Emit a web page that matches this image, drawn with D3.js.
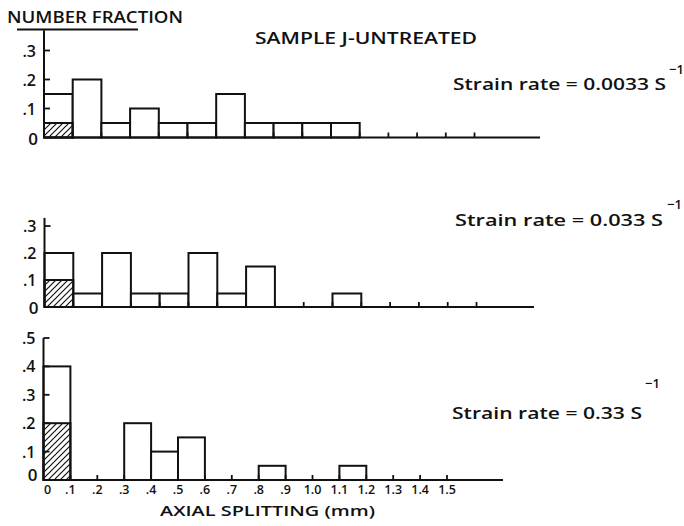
<!DOCTYPE html>
<html><head><meta charset="utf-8">
<script src="https://cdn.jsdelivr.net/npm/d3@7/dist/d3.min.js"></script>
<style>
body{margin:0;background:#fff}
svg{display:block}
text{font-family:'Open Sans','DejaVu Sans',sans-serif;font-weight:600;fill:#111}
</style></head>
<body><svg id="chart" width="684" height="526"></svg>
<script>
// ---- data ----
const binStarts = [0,0.1,0.2,0.3,0.4,0.5,0.6,0.7,0.8,0.9,1.0,1.1,1.2,1.3,1.4];
const tickValues = [0.1,0.2,0.3,0.4,0.5,0.6,0.7,0.8,0.9,1.0,1.1,1.2,1.3,1.4,1.5];
const xTickLabels = ["0",".1",".2",".3",".4",".5",".6",".7",".8",".9","1.0","1.1","1.2","1.3","1.4","1.5"];
const xTickLabelValues = [0,0.1,0.2,0.3,0.4,0.5,0.6,0.7,0.8,0.9,1.0,1.1,1.2,1.3,1.4,1.5];

const slowValues   = [0.15,0.20,0.05,0.10,0.05,0.05,0.15,0.05,0.05,0.05,0.05,0,0,0,0];
const slowHatched  = [0.05];
const midValues    = [0.20,0.05,0.20,0.05,0.05,0.20,0.05,0.15,0,0,0.05,0,0,0,0];
const midHatched   = [0.10];
const fastValues   = [0.40,0,0,0.20,0.10,0.15,0,0,0.05,0,0,0.05,0,0,0];
const fastHatched  = [0.20];

const yTicksSmall  = [0,0.1,0.2,0.3];
const yLabelsSmall = ["0",".1",".2",".3"];
const yTicksLarge  = [0,0.1,0.2,0.3,0.4,0.5];
const yLabelsLarge = ["0",".1",".2",".3",".4",".5"];

const rateLabels = ["Strain rate = 0.0033 S","Strain rate = 0.033 S","Strain rate = 0.33 S"];
const titleText = "SAMPLE J-UNTREATED";
const yTitle = "NUMBER FRACTION";
const xTitle = "AXIAL SPLITTING (mm)";

// ---- drawing ----
const svg = d3.select("#chart");
const defs = svg.append("defs");
const pat = defs.append("pattern").attr("id","hatch").attr("patternUnits","userSpaceOnUse")
  .attr("width",6).attr("height",6);
pat.append("path").attr("d","M-1,1 L1,-1 M0,6 L6,0 M5,7 L7,5")
  .attr("stroke","#111").attr("stroke-width",1.2);

const panels = [
  {values:slowValues, hatched:slowHatched, x0:44, xEnd:540, bw:28.7, y0:137.5, unit:290, yMax:0.37,
   ticks:yTicksSmall, labels:yLabelsSmall, rate:rateLabels[0], rx:453, ry:90, rw:213, sx:669, sy:74},
  {values:midValues, hatched:midHatched, x0:44.5, xEnd:534, bw:28.8, y0:307, unit:270, yMax:0.33,
   ticks:yTicksSmall, labels:yLabelsSmall, rate:rateLabels[1], rx:455, ry:226, rw:208, sx:667, sy:209},
  {values:fastValues, hatched:fastHatched, x0:43.5, xEnd:503, bw:26.9, y0:480, unit:284, yMax:0.5,
   ticks:yTicksLarge, labels:yLabelsLarge, rate:rateLabels[2], rx:452, ry:419, rw:190, sx:645, sy:388}
];

panels.forEach((p,i)=>{
  const dMax = (p.xEnd - p.x0)/(p.bw*10);
  const x = d3.scaleLinear().domain([0,dMax]).range([p.x0,p.xEnd]);
  const y = d3.scaleLinear().domain([0,p.yMax]).range([p.y0,p.y0-p.yMax*p.unit]);
  const g = svg.append("g");

  // bars
  const bars = binStarts.map((s,k)=>({s, v:p.values[k]})).filter(d=>d.v>0);
  g.selectAll("rect.bar").data(bars).join("rect").attr("class","bar")
    .attr("x",d=>x(d.s)).attr("width",d=>x(d.s+0.1)-x(d.s))
    .attr("y",d=>y(d.v)).attr("height",d=>y(0)-y(d.v))
    .attr("fill","#fff").attr("stroke","#111").attr("stroke-width",2);
  g.selectAll("rect.hat").data(p.hatched.map((v,k)=>({s:binStarts[k],v}))).join("rect").attr("class","hat")
    .attr("x",d=>x(d.s)).attr("width",d=>x(d.s+0.1)-x(d.s))
    .attr("y",d=>y(d.v)).attr("height",d=>y(0)-y(d.v))
    .attr("fill","url(#hatch)").attr("stroke","#111").attr("stroke-width",2);

  // x baseline + upward ticks
  g.append("line").attr("x1",x(0)).attr("x2",x(dMax)).attr("y1",y(0)).attr("y2",y(0))
    .attr("stroke","#111").attr("stroke-width",2);
  g.selectAll("line.xt").data(tickValues).join("line").attr("class","xt")
    .attr("x1",d=>x(d)).attr("x2",d=>x(d)).attr("y1",y(0)).attr("y2",y(0)-5)
    .attr("stroke","#111").attr("stroke-width",1.8);

  // y axis
  g.append("line").attr("x1",x(0)).attr("x2",x(0)).attr("y1",y(p.yMax)).attr("y2",y(0))
    .attr("stroke","#111").attr("stroke-width",2);
  g.selectAll("line.yt").data(p.ticks.slice(1)).join("line").attr("class","yt")
    .attr("x1",x(0)).attr("x2",x(0)+6).attr("y1",d=>y(d)).attr("y2",d=>y(d))
    .attr("stroke","#111").attr("stroke-width",1.8);
  g.selectAll("text.yl").data(p.ticks).join("text").attr("class","yl")
    .attr("x",(d,k)=>k===0?x(0)-6:x(0)-8).attr("y",(d,k)=>y(d)+(k===0 ? (i===2?1:7) : 6))
    .attr("text-anchor","end").attr("font-size",(d,k)=>k===0?17:16)
    .text((d,k)=>p.labels[k]);

  // strain-rate label with superscript
  g.append("text").attr("x",p.rx).attr("y",p.ry).attr("font-size",17)
    .attr("textLength",p.rw).attr("lengthAdjust","spacingAndGlyphs").text(p.rate);
  g.append("text").attr("x",p.sx).attr("y",p.sy).attr("font-size",13).text("\u22121");

  if(i===2){
    g.selectAll("text.xl").data(xTickLabelValues).join("text").attr("class","xl")
      .attr("x",(d,k)=>x(d)+(k===0?4:0)).attr("y",494)
      .attr("text-anchor","middle").attr("font-size",12.5)
      .text((d,k)=>xTickLabels[k]);
  }
});

// titles
svg.append("text").attr("x",7).attr("y",23).attr("font-size",17)
  .attr("textLength",176).attr("lengthAdjust","spacingAndGlyphs").text(yTitle);
svg.append("line").attr("x1",17).attr("x2",138).attr("y1",29.5).attr("y2",29.5)
  .attr("stroke","#111").attr("stroke-width",2);
svg.append("text").attr("x",255).attr("y",44).attr("font-size",16)
  .attr("textLength",222).attr("lengthAdjust","spacingAndGlyphs").text(titleText);
svg.append("text").attr("x",160).attr("y",516).attr("font-size",15)
  .attr("textLength",215).attr("lengthAdjust","spacingAndGlyphs").text(xTitle);
</script>
</body></html>
